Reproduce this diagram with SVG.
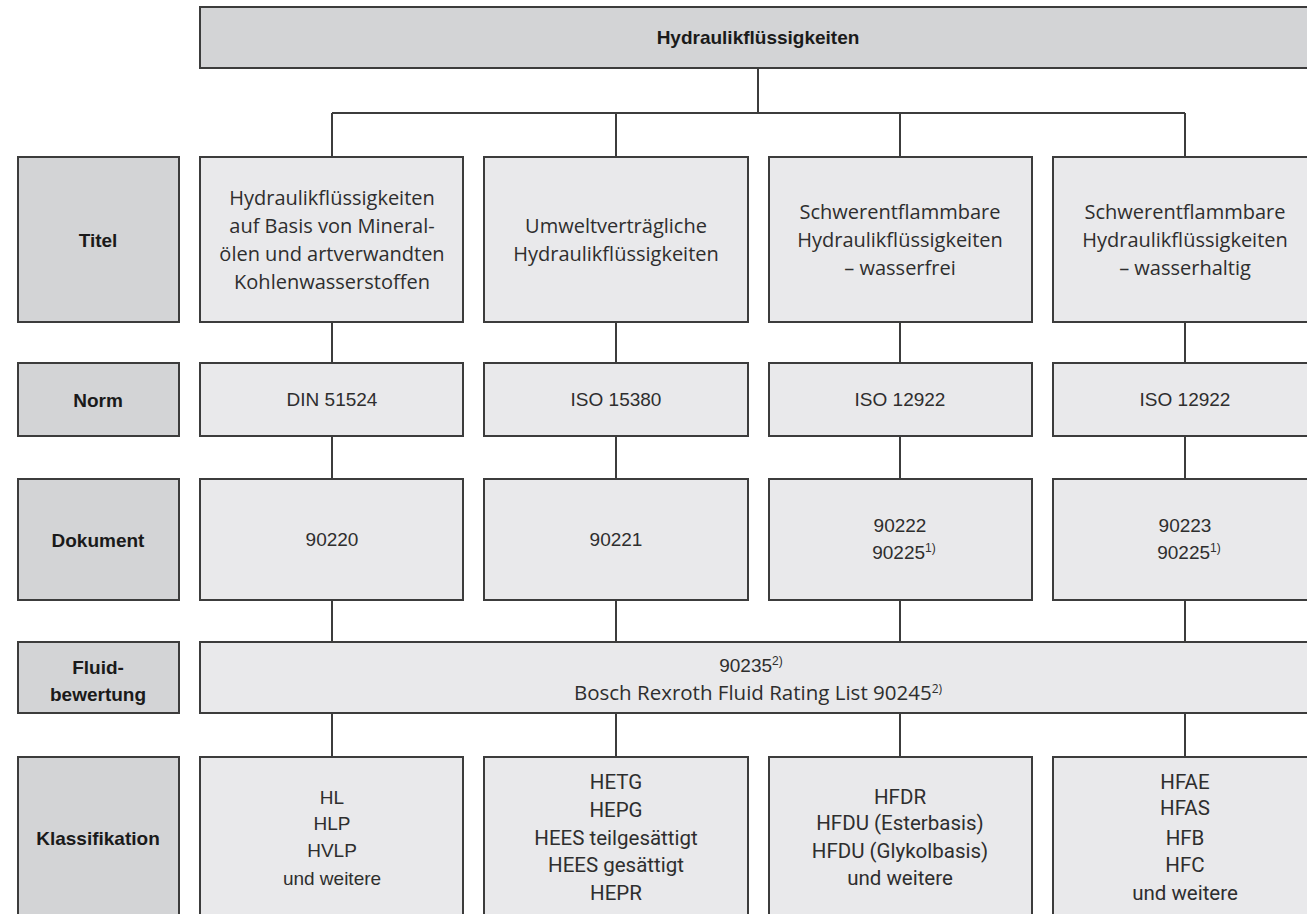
<svg xmlns="http://www.w3.org/2000/svg" width="1307" height="914" viewBox="0 0 1307 914">
  <style>
    .hdr { fill: #d3d4d6; stroke: #3c3c3c; stroke-width: 2; }
    .cell { fill: #e9e9eb; stroke: #3c3c3c; stroke-width: 2; }
    .lbl { font-family: "Liberation Sans", Arial, sans-serif; font-weight: bold; font-size: 19px; fill: #1a1a1a; text-anchor: middle; }
    .ttl { font-family: "Open Sans", "Noto Sans", sans-serif; font-size: 20px; fill: #2e2e2e; text-anchor: middle; }
    .wide { font-size: 20.5px; }
    .num { font-family: "Liberation Sans", Arial, sans-serif; font-size: 19px; fill: #2e2e2e; text-anchor: middle; }
    .cnd { font-family: Roboto, "Liberation Sans", sans-serif; font-size: 20.5px; fill: #2e2e2e; text-anchor: middle; }
    .sup { font-size: 12px; }
    .wire { fill: none; stroke: #3c3c3c; stroke-width: 2; }
  </style>

  <!-- connectors -->
  <g id="connectors" class="wire">
    <path d="M758 68 V113 M332 113 H1185 M332 113 V157 M616 113 V157 M900 113 V157 M1185 113 V157"/>
    <path d="M332 322 V363 M616 322 V363 M900 322 V363 M1185 322 V363"/>
    <path d="M332 436 V479 M616 436 V479 M900 436 V479 M1185 436 V479"/>
    <path d="M332 600 V642 M616 600 V642 M900 600 V642 M1185 600 V642"/>
    <path d="M332 713 V757 M616 713 V757 M900 713 V757 M1185 713 V757"/>
  </g>

  <!-- root -->
  <g id="root">
    <rect class="hdr" x="200" y="7" width="1117" height="61"/>
    <text class="lbl" x="758" y="44">Hydraulikflüssigkeiten</text>
  </g>

  <!-- row labels -->
  <g id="label-titel">
    <rect class="hdr" x="18" y="157" width="161" height="165"/>
    <text class="lbl" x="98" y="247">Titel</text>
  </g>
  <g id="label-norm">
    <rect class="hdr" x="18" y="363" width="161" height="73"/>
    <text class="lbl" x="98" y="407">Norm</text>
  </g>
  <g id="label-dokument">
    <rect class="hdr" x="18" y="479" width="161" height="121"/>
    <text class="lbl" x="98" y="547">Dokument</text>
  </g>
  <g id="label-fluid">
    <rect class="hdr" x="18" y="642" width="161" height="71"/>
    <text class="lbl" x="98" y="674">Fluid-</text>
    <text class="lbl" x="98" y="701">bewertung</text>
  </g>
  <g id="label-klass">
    <rect class="hdr" x="18" y="757" width="161" height="170"/>
    <text class="lbl" x="98" y="845">Klassifikation</text>
  </g>

  <!-- Titel row -->
  <g id="titel-1">
    <rect class="cell" x="200" y="157" width="263" height="165"/>
    <text class="ttl" x="332" y="205">Hydraulikflüssigkeiten</text>
    <text class="ttl" x="332" y="233">auf Basis von Mineral-</text>
    <text class="ttl" x="332" y="261">ölen und artverwandten</text>
    <text class="ttl" x="332" y="289">Kohlenwasserstoffen</text>
  </g>
  <g id="titel-2">
    <rect class="cell" x="484" y="157" width="264" height="165"/>
    <text class="ttl" x="616" y="233">Umweltverträgliche</text>
    <text class="ttl" x="616" y="261">Hydraulikflüssigkeiten</text>
  </g>
  <g id="titel-3">
    <rect class="cell" x="769" y="157" width="263" height="165"/>
    <text class="ttl" x="900" y="219">Schwerentflammbare</text>
    <text class="ttl" x="900" y="247">Hydraulikflüssigkeiten</text>
    <text class="ttl" x="900" y="275">– wasserfrei</text>
  </g>
  <g id="titel-4">
    <rect class="cell" x="1053" y="157" width="264" height="165"/>
    <text class="ttl" x="1185" y="219">Schwerentflammbare</text>
    <text class="ttl" x="1185" y="247">Hydraulikflüssigkeiten</text>
    <text class="ttl" x="1185" y="275">– wasserhaltig</text>
  </g>

  <!-- Norm row -->
  <g id="norm-1">
    <rect class="cell" x="200" y="363" width="263" height="73"/>
    <text class="num" x="332" y="406">DIN 51524</text>
  </g>
  <g id="norm-2">
    <rect class="cell" x="484" y="363" width="264" height="73"/>
    <text class="num" x="616" y="406">ISO 15380</text>
  </g>
  <g id="norm-3">
    <rect class="cell" x="769" y="363" width="263" height="73"/>
    <text class="num" x="900" y="406">ISO 12922</text>
  </g>
  <g id="norm-4">
    <rect class="cell" x="1053" y="363" width="264" height="73"/>
    <text class="num" x="1185" y="406">ISO 12922</text>
  </g>

  <!-- Dokument row -->
  <g id="dok-1">
    <rect class="cell" x="200" y="479" width="263" height="121"/>
    <text class="num" x="332" y="546">90220</text>
  </g>
  <g id="dok-2">
    <rect class="cell" x="484" y="479" width="264" height="121"/>
    <text class="num" x="616" y="546">90221</text>
  </g>
  <g id="dok-3">
    <rect class="cell" x="769" y="479" width="263" height="121"/>
    <text class="num" x="900" y="532">90222</text>
    <text class="num" x="904" y="559">90225<tspan class="sup" dy="-7">1)</tspan></text>
  </g>
  <g id="dok-4">
    <rect class="cell" x="1053" y="479" width="264" height="121"/>
    <text class="num" x="1185" y="532">90223</text>
    <text class="num" x="1189" y="559">90225<tspan class="sup" dy="-7">1)</tspan></text>
  </g>

  <!-- Fluidbewertung row -->
  <g id="fluid">
    <rect class="cell" x="200" y="642" width="1117" height="71"/>
    <text class="num" x="751" y="672">90235<tspan class="sup" dy="-7">2)</tspan></text>
    <text class="ttl wide" x="758" y="700">Bosch Rexroth Fluid Rating List 90245<tspan class="sup" dy="-7">2)</tspan></text>
  </g>

  <!-- Klassifikation row -->
  <g id="klass-1">
    <rect class="cell" x="200" y="757" width="263" height="170"/>
    <text class="num" x="332" y="804">HL</text>
    <text class="num" x="332" y="830">HLP</text>
    <text class="num" x="332" y="857">HVLP</text>
    <text class="num" x="332" y="885">und weitere</text>
  </g>
  <g id="klass-2">
    <rect class="cell" x="484" y="757" width="264" height="170"/>
    <text class="cnd" x="616" y="789">HETG</text>
    <text class="cnd" x="616" y="817">HEPG</text>
    <text class="cnd" x="616" y="845">HEES teilgesättigt</text>
    <text class="cnd" x="616" y="872">HEES gesättigt</text>
    <text class="cnd" x="616" y="900">HEPR</text>
  </g>
  <g id="klass-3">
    <rect class="cell" x="769" y="757" width="263" height="170"/>
    <text class="cnd" x="900" y="804">HFDR</text>
    <text class="cnd" x="900" y="830">HFDU (Esterbasis)</text>
    <text class="cnd" x="900" y="858">HFDU (Glykolbasis)</text>
    <text class="cnd" x="900" y="885">und weitere</text>
  </g>
  <g id="klass-4">
    <rect class="cell" x="1053" y="757" width="264" height="170"/>
    <text class="cnd" x="1185" y="789">HFAE</text>
    <text class="cnd" x="1185" y="815">HFAS</text>
    <text class="cnd" x="1185" y="845">HFB</text>
    <text class="cnd" x="1185" y="872">HFC</text>
    <text class="cnd" x="1185" y="900">und weitere</text>
  </g>
</svg>
